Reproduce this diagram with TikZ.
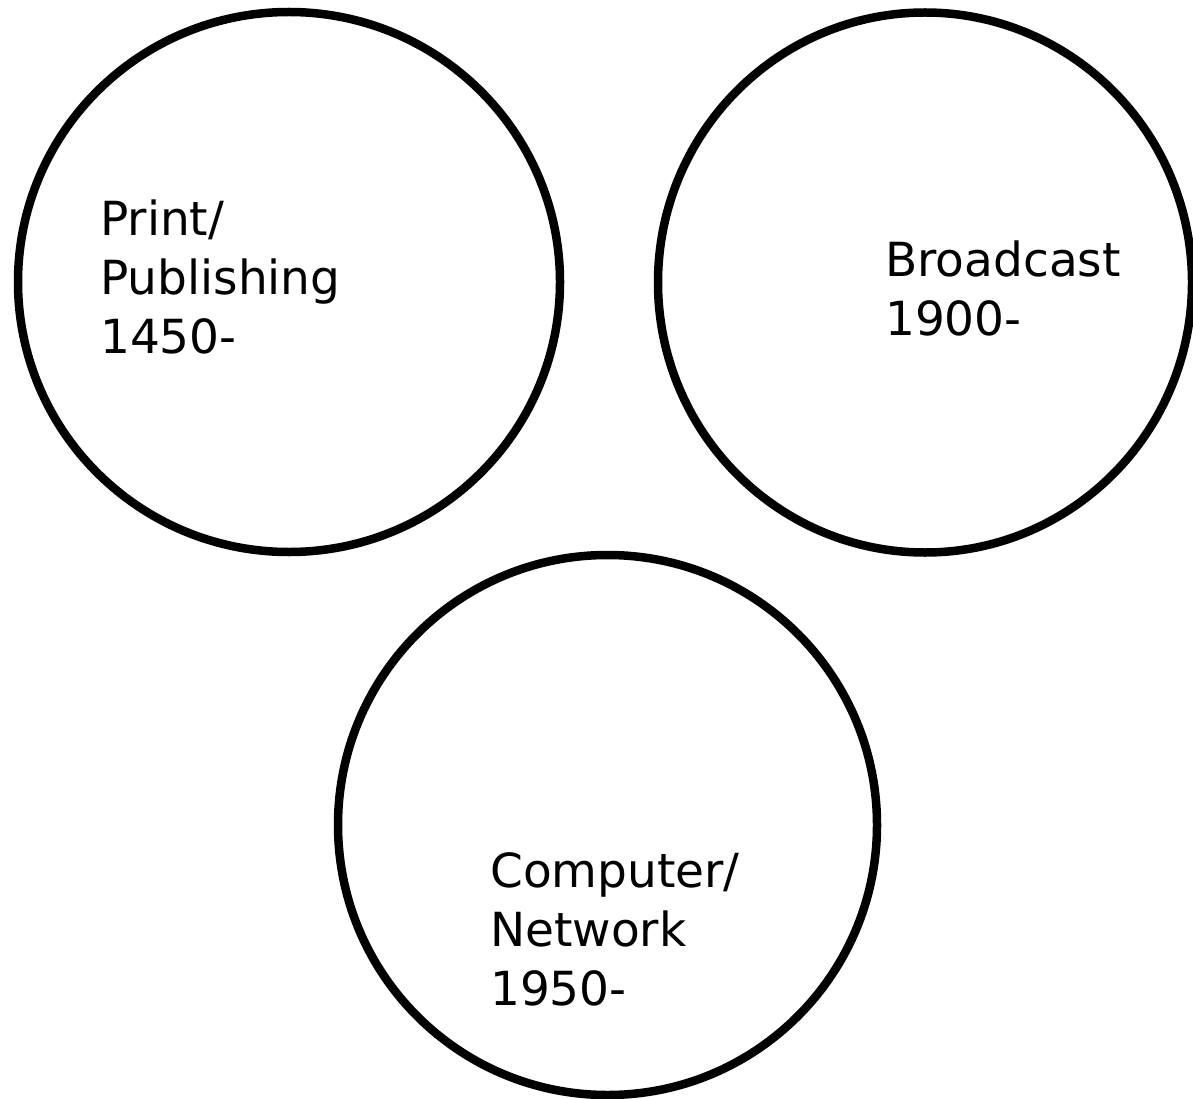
\documentclass[tikz,border=0pt]{standalone}
\usepackage{fontspec}
\setmainfont{DejaVu Sans}
\tikzset{
  era/.style={draw=black, line width=8.5pt, fill=none},
  label/.style={anchor=north west, inner sep=0pt, align=left, font=\fontsize{47}{59}\selectfont}
}
\begin{document}
\begin{tikzpicture}[x=1pt,y=-1pt]
\useasboundingbox[fill=white] (0,0) rectangle (1193,1099);
\begin{scope}
\clip (0,0) rectangle (1193,1099);
\draw[era] (289,282) ellipse [x radius=271, y radius=270];
\draw[era] (925,282.5) ellipse [x radius=267, y radius=270];
\draw[era] (607.5,825) ellipse [x radius=269.5, y radius=270];
\end{scope}
\node[label] (print) at (100,200) {Print/\\Publishing\\1450-};
\node[label] (broad) at (885,241) {Broadcast\\1900-};
\node[label] (comp) at (490,852) {Computer/\\Network\\1950-};
\end{tikzpicture}
\end{document}
